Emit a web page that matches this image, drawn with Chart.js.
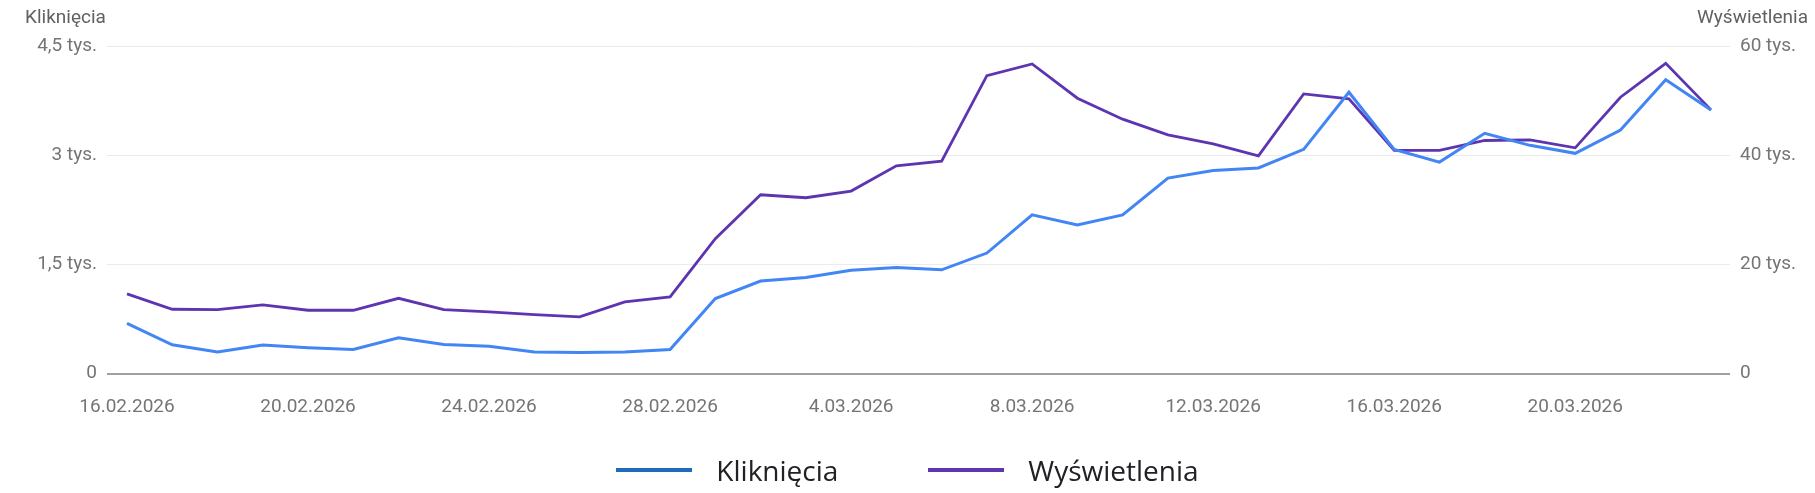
<!DOCTYPE html>
<html>
<head>
<meta charset="utf-8">
<script src="https://cdn.jsdelivr.net/npm/chart.js@4.4.1/dist/chart.umd.min.js"></script>
<style>
html,body{margin:0;padding:0;background:#fff;}
#wrap{position:relative;width:1815px;height:493px;overflow:hidden;}
#c{position:absolute;left:0;top:0;}
#legend{position:absolute;left:0;top:451px;width:1815px;height:38px;display:flex;justify-content:center;align-items:center;gap:90px;font-family:"Open Sans",sans-serif;font-size:28px;color:#202124;}
.item{display:flex;align-items:center;gap:24px;}
.mark{width:76px;height:4px;}
</style>
</head>
<body>
<div id="wrap">
  <canvas id="c" width="1815" height="493"></canvas>
  <div id="legend"></div>
</div>
<script>
const dates = [
  "16.02.2026","17.02.2026","18.02.2026","19.02.2026","20.02.2026","21.02.2026","22.02.2026",
  "23.02.2026","24.02.2026","25.02.2026","26.02.2026","27.02.2026","28.02.2026",
  "1.03.2026","2.03.2026","3.03.2026","4.03.2026","5.03.2026","6.03.2026","7.03.2026",
  "8.03.2026","9.03.2026","10.03.2026","11.03.2026","12.03.2026","13.03.2026","14.03.2026",
  "15.03.2026","16.03.2026","17.03.2026","18.03.2026","19.03.2026","20.03.2026","21.03.2026",
  "22.03.2026","23.03.2026"
];
const clicks = [
  690, 395, 295, 390, 355, 330, 490, 400, 375, 295, 290, 295, 330,
  1030, 1270, 1320, 1420, 1455, 1425, 1655, 2180, 2040, 2180, 2685,
  2790, 2825, 3080, 3865, 3080, 2905, 3300, 3135, 3025, 3345, 4035, 3620
];
const views = [
  14600, 11770, 11710, 12560, 11590, 11590, 13780, 11710, 11280, 10790, 10370, 13110, 14030,
  24700, 32750, 32200, 33420, 38050, 38900, 54580, 56710, 50430, 46590, 43720,
  42080, 39880, 51220, 50310, 40860, 40860, 42690, 42810, 41340, 50610, 56830, 48300
];
const seriesNames = ["Kliknięcia", "Wyświetlenia"];
const lineColors = ["#4285f4", "#5e35b1"];
const legendColors = ["#1e6bb8", "#5e35b1"];
const leftTicks = [0, 1500, 3000, 4500];
const leftTickLabels = ["0", "1,5 tys.", "3 tys.", "4,5 tys."];
const rightTicks = [0, 20000, 40000, 60000];
const rightTickLabels = ["0", "20 tys.", "40 tys.", "60 tys."];
const xTickEvery = 4;

Chart.defaults.font.family = "Roboto";

const axisTitles = {
  id: "axisTitles",
  afterDraw(chart) {
    const ctx = chart.ctx;
    ctx.save();
    ctx.font = "19px Roboto";
    ctx.fillStyle = "#616161";
    ctx.textBaseline = "middle";
    ctx.textAlign = "left";
    ctx.fillText(seriesNames[0], 25, 18);
    ctx.textAlign = "right";
    ctx.fillText(seriesNames[1], 1808, 18);
    ctx.restore();
  }
};

const tickFont = { family: "Roboto", size: 19 };
const tickColor = "#757575";

const chart = new Chart(document.getElementById("c"), {
  type: "line",
  data: {
    datasets: [
      {
        label: seriesNames[0],
        data: clicks.map((v, i) => ({ x: i, y: v })),
        borderColor: lineColors[0],
        backgroundColor: legendColors[0],
        borderWidth: 3,
        pointRadius: 0,
        tension: 0,
        yAxisID: "yL"
      },
      {
        label: seriesNames[1],
        data: views.map((v, i) => ({ x: i, y: v })),
        borderColor: lineColors[1],
        backgroundColor: legendColors[1],
        borderWidth: 2.8,
        pointRadius: 0,
        tension: 0,
        yAxisID: "yR"
      }
    ]
  },
  options: {
    responsive: false,
    animation: false,
    devicePixelRatio: 1,
    layout: { padding: { top: 46, left: 0, right: 0, bottom: 0 } },
    plugins: {
      legend: { display: false },
      tooltip: { enabled: false }
    },
    scales: {
      x: {
        type: "linear",
        min: -0.442,
        max: 35.42,
        grid: { display: false, drawTicks: false },
        border: { display: false },
        afterBuildTicks(scale) {
          scale.ticks = dates.map((d, i) => i).filter(i => i % xTickEvery === 0).map(v => ({ value: v }));
        },
        afterFit(scale) { scale.height = 119.5; },
        ticks: {
          font: tickFont,
          color: tickColor,
          padding: 22,
          maxRotation: 0,
          autoSkip: false,
          callback: (v) => dates[v] ?? ""
        }
      },
      yL: {
        position: "left",
        min: 0,
        max: 4500,
        afterBuildTicks(scale) { scale.ticks = leftTicks.map(v => ({ value: v })); },
        afterFit(scale) { scale.width = 107; },
        grid: {
          drawTicks: false,
          color: (c) => (c.tick && c.tick.value === 0 ? "#a0a0a0" : "#ebebeb"),
          lineWidth: (c) => (c.tick && c.tick.value === 0 ? 2 : 1)
        },
        border: { display: false },
        ticks: {
          font: tickFont,
          color: tickColor,
          padding: 10,
          callback: (v) => leftTickLabels[leftTicks.indexOf(v)] ?? ""
        }
      },
      yR: {
        position: "right",
        min: 0,
        max: 60000,
        afterBuildTicks(scale) { scale.ticks = rightTicks.map(v => ({ value: v })); },
        afterFit(scale) { scale.width = 85; },
        grid: { display: false, drawTicks: false },
        border: { display: false },
        ticks: {
          font: tickFont,
          color: tickColor,
          padding: 10,
          callback: (v) => rightTickLabels[rightTicks.indexOf(v)] ?? ""
        }
      }
    }
  },
  plugins: [axisTitles]
});

const legend = document.getElementById("legend");
chart.data.datasets.forEach((ds) => {
  const item = document.createElement("div");
  item.className = "item";
  const mark = document.createElement("div");
  mark.className = "mark";
  mark.style.background = ds.backgroundColor;
  const text = document.createElement("span");
  text.textContent = ds.label;
  item.appendChild(mark);
  item.appendChild(text);
  legend.appendChild(item);
});
</script>
</body>
</html>
